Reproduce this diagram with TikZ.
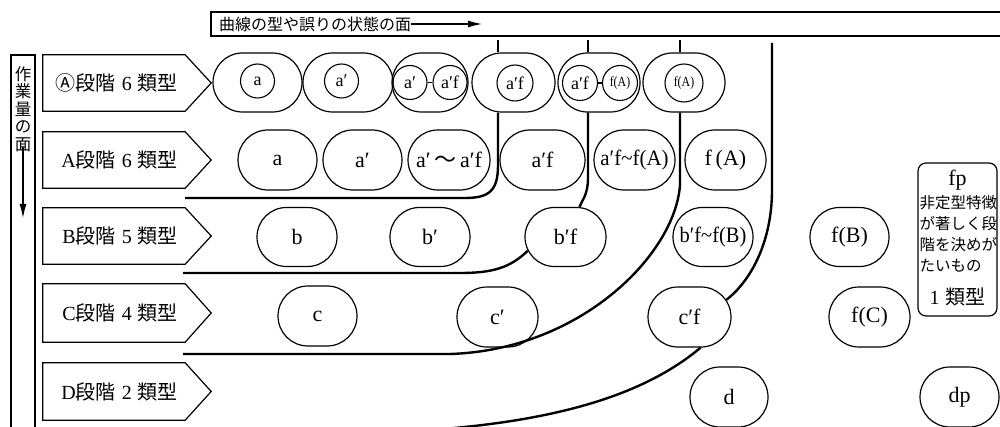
\documentclass[tikz,border=0pt]{standalone}
\usepackage{fontspec}
\usepackage{graphicx}
\setmainfont{Liberation Serif}
\newfontfamily\jp{Noto Sans CJK JP}
\usetikzlibrary{arrows.meta,calc,shapes.misc}
\newcommand\tld{\textasciitilde}
\newcommand\zb[1]{\makebox[0pt]{#1}}
\begin{document}
\begin{tikzpicture}[x=1pt,y=-1pt,
  stad/.style={draw,line width=1.2pt,rounded rectangle,minimum height=59pt,inner sep=0pt,font=\fontsize{22}{24}\selectfont},
  sc/.style={draw,circle,line width=1.1pt,minimum size=34pt,inner sep=0pt,font=\fontsize{18}{20}\selectfont},
  scs/.style={sc,font=\fontsize{14}{16}\selectfont},
  big/.style={line width=2.4pt},
  frame/.style={line width=1.2pt},
  lbl/.style={minimum width=142pt,inner sep=0pt},
  lbltxt/.style={anchor=east,inner sep=0pt,font=\fontsize{20}{22}\selectfont},
  jptxt/.style={inner sep=0pt,font=\jp\fontsize{15.5}{18}\selectfont},
  arr/.style={frame,-{Latex[length=14pt,width=7pt]}}
]
\useasboundingbox (0,0) rectangle (1000,427);

% top band
\draw[frame] (1000,12) -- (211,12) -- (211,36) -- (1000,36);
\node[anchor=west,inner sep=0pt,font=\jp\fontsize{16}{18}\selectfont] (toplbl) at (219,24) {曲線の型や誤りの状態の面};
\coordinate (toparr) at (482,24);
\draw[arr] (toplbl.east) -- (toparr);

% left band
\draw[frame] (11,427) -- (11,55) -- (35,55) -- (35,427);
\node[align=center,inner sep=0pt,font=\jp\fontsize{16.5}{17.5}\selectfont] (leftlbl) at (23,109) {作\\業\\量\\の\\面};
\coordinate (leftarr) at (23,218);
\draw[arr] (leftlbl.south) ++(0,-5) -- (leftarr);

% row labels
\node[lbl,minimum height=56pt] (LAo) at (114,83) {};
\node[lbl,minimum height=56pt] (LA) at (114,160) {};
\node[lbl,minimum height=56pt] (LB) at (114,236) {};
\node[lbl,minimum height=58pt] (LC) at (114,313) {};
\node[lbl,minimum height=57pt] (LD) at (114,391.5) {};
\foreach \r in {LAo,LA,LB,LC,LD}{
  \draw[frame] (\r.north west) -- (\r.north east) -- ($(\r.east)+(26,0)$) -- (\r.south east) -- (\r.south west) -- cycle;
}
\node[lbltxt] (TAo) at (178,83) {{\jp Ⓐ段階}\hspace{6pt}6\hspace{6pt}{\jp 類型}};
\node[lbltxt] (TA) at (178,160) {A{\jp 段階}\hspace{6pt}6\hspace{6pt}{\jp 類型}};
\node[lbltxt] (TB) at (178,236) {B{\jp 段階}\hspace{6pt}5\hspace{6pt}{\jp 類型}};
\node[lbltxt] (TC) at (178,313) {C{\jp 段階}\hspace{6pt}4\hspace{6pt}{\jp 類型}};
\node[lbltxt] (TD) at (178,391.5) {D{\jp 段階}\hspace{6pt}2\hspace{6pt}{\jp 類型}};

% row (A) circled
\node[stad,minimum width=89pt] (s1) at (257.5,82.5) {};
\node[sc] (c1) at (257.5,81) {a};
\node[stad,minimum width=90pt] (s2) at (348,82.5) {};
\node[sc] (c2) at (341.5,81) {a′};
\node[stad,minimum width=76pt] (s3) at (430,82.5) {};
\node[sc] (c3a) at (410,82.5) {a′};
\node[sc] (c3b) at (450,82.5) {a′f};
\draw[frame] (c3a) -- (c3b);
\node[stad,minimum width=83pt] (s4) at (513.5,82.5) {};
\node[sc,minimum size=36pt] (c4) at (515,83) {a′f};
\node[stad,minimum width=82pt] (s5) at (599,82.5) {};
\node[sc,minimum size=35pt] (c5a) at (580,83) {a′f};
\node[scs,minimum size=35pt] (c5b) at (620,83) {\scalebox{0.85}[1]{f(A)}};
\draw[frame] (c5a) -- (c5b);
\node[stad,minimum width=82pt] (s6) at (684,82.5) {};
\node[scs,minimum size=38pt] (c6) at (684,83) {\scalebox{0.85}[1]{f(A)}};

% row A
\node[stad,minimum width=79pt,minimum height=60pt] (a1) at (277.5,160) {\zb{a}};
\node[stad,minimum width=79pt,minimum height=60pt] (a2) at (362.5,160) {\zb{a′}};
\node[stad,minimum width=82pt,minimum height=60pt] (a3) at (449,160) {\zb{a′\,{\jp ～}\,a′f}};
\node[stad,minimum width=85pt,minimum height=60pt] (a4) at (542.5,160) {\zb{a′f}};
\node[stad,minimum width=81pt,minimum height=60pt] (a5) at (634.5,160) {\zb{\scalebox{0.95}[1]{a′f\tld f(A)}}};
\node[stad,minimum width=81pt,minimum height=60pt] (a6) at (725.5,160) {\zb{f\,(A)}};

% row B
\node[stad,minimum width=80pt] (b1) at (297,237) {\zb{b}};
\node[stad,minimum width=80pt] (b2) at (430,237) {\zb{b′}};
\node[stad,minimum width=81pt] (b3) at (565.5,237) {\zb{b′f}};
\node[stad,minimum width=80pt] (b4) at (713,237) {\zb{\scalebox{0.93}[1]{b′f\tld f(B)}}};
\node[stad,minimum width=79pt] (b5) at (849.5,237) {\zb{f(B)}};

% row C
\node[stad,minimum width=79pt,minimum height=60pt] (cc1) at (317.5,316) {\zb{c}};
\node[stad,minimum width=81pt,minimum height=60pt] (cc2) at (497.5,317) {\zb{c′}};
\node[stad,minimum width=83pt,minimum height=60pt] (cc3) at (689.5,317) {\zb{c′f}};
\node[stad,minimum width=81pt,minimum height=60pt] (cc4) at (869.5,317) {\zb{f(C)}};

% row D
\node[stad,minimum width=78pt,minimum height=60pt] (d1) at (729,397) {\zb{d}};
\node[stad,minimum width=79pt,minimum height=60pt] (d2) at (959.5,397) {\zb{dp}};

% fp box
\node[draw,frame,rounded corners=8pt,minimum width=79pt,minimum height=153pt,inner sep=0pt] (fp) at (957.5,239.5) {};
\node[inner sep=0pt,font=\fontsize{22}{24}\selectfont] (fpt) at (957.5,180) {fp};
\node[jptxt,anchor=west] (fp1) at (919.5,203) {非定型特徴};
\node[jptxt,anchor=west] (fp2) at (919.5,224) {が著しく段};
\node[jptxt,anchor=west] (fp3) at (919.5,245) {階を決めが};
\node[jptxt,anchor=west] (fp4) at (919.5,266) {たいもの};
\node[inner sep=0pt,font=\fontsize{20}{22}\selectfont] (fp5) at (957.5,297) {1\hspace{6pt}{\jp 類型}};

% ticks and curves
\coordinate (k1) at (498,40);
\coordinate (k2) at (588,40);
\coordinate (k3) at (680,40);
\coordinate (k4) at (772,43);
\draw[big] (k1) -- (k1 |- s4.north);
\draw[big] (k2) -- (k2 |- s5.north);
\draw[big] (k3) -- (k3 |- s6.north);

\coordinate (e1) at (185,198);
\coordinate (e2) at (183,273);
\coordinate (e3) at (183,354);
\coordinate (e4) at (430,430);

\draw[big] (k1 |- s4.south) -- (498,165) .. controls (498,190) and (490,198) .. (465,198) -- (e1);
\draw[big] (k2 |- s5.south) -- (588,178) .. controls (588,195) and (582,200) .. (b3.65);
\draw[big] (b3.200) .. controls (510,268) and (492,273) .. (460,273) -- (e2);
\draw[big] (k3 |- s6.south) -- (680,185) .. controls (675,255) and (580,350) .. (450,354) -- (e3);
\draw[big] (k4) -- (772,190) .. controls (772,240) and (752,280) .. (cc3.25);
\draw[big] (cc3.290) .. controls (650,390) and (570,420) .. (e4);
\end{tikzpicture}
\end{document}
